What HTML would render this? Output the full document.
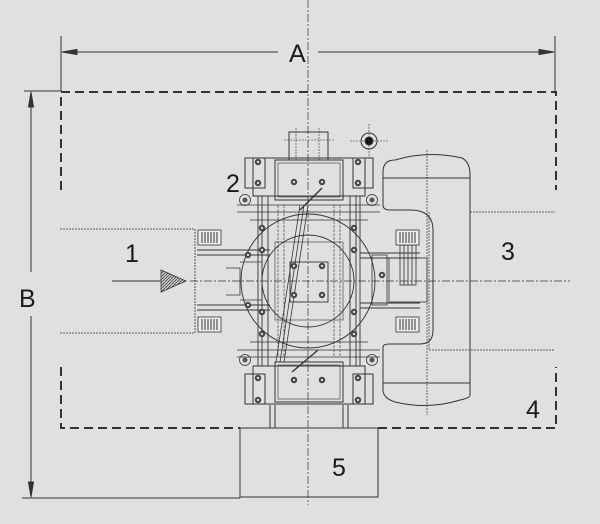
<!DOCTYPE html>
<html><head><meta charset="utf-8"><style>
html,body{margin:0;padding:0;background:#dfe0e2;}
svg{display:block}
text{font-family:"Liberation Sans",sans-serif;fill:#1a1a1a;}
</style></head><body>
<svg width="600" height="524" viewBox="0 0 600 524" xmlns="http://www.w3.org/2000/svg">
<rect width="600" height="524" fill="#dfe0e2"/>
<defs>
<pattern id="h" width="3" height="3" patternUnits="userSpaceOnUse"><rect width="3" height="3" fill="#ccc"/><path d="M0 3L3 0" stroke="#444" stroke-width="0.8"/></pattern>
<g id="wh"><rect x="0" y="0" width="23" height="15" fill="#eee" stroke="#333" stroke-width="0.8"/><path d="M4 2v11M7 2v11M10 2v11M13 2v11M16 2v11M19 2v11" stroke="#333" stroke-width="1"/></g>
<g id="bolt"><circle r="3.2" fill="#444"/><circle r="1.2" fill="#ddd"/></g>
<g id="roll"><circle r="5.5" fill="none" stroke="#333" stroke-width="0.8"/><circle r="2.5" fill="#555"/></g>
</defs>
<g stroke="#333" fill="none" stroke-width="1">
<line x1="61" y1="36" x2="61" y2="91"/>
<line x1="555" y1="36" x2="555" y2="91"/>
<line x1="62" y1="52" x2="278" y2="52"/>
<line x1="318" y1="52" x2="554" y2="52"/>
<path d="M62 52l15-2.5v5z M554 52l-15-2.5v5z" fill="#333"/>
<line x1="24" y1="91" x2="62" y2="91"/>
<line x1="22" y1="498" x2="240" y2="498"/>
<line x1="31" y1="92" x2="31" y2="272"/>
<line x1="31" y1="316" x2="31" y2="497"/>
<path d="M31 92l-2.5 15h5z M31 497l-2.5-15h5z" fill="#333"/>
<g stroke-width="2" stroke-dasharray="9,5">
<path d="M61 190V92H556V190"/>
<path d="M61 367V428H240M378 428H556V367"/>
</g>
<rect x="240" y="428" width="138" height="69"/>
<g stroke-dasharray="2,1" stroke-width="0.8"><path d="M60 229H195V333H60"/></g>
<line x1="112" y1="281" x2="162" y2="281"/>
<path d="M161 270L186 281L161 292Z" fill="url(#h)" stroke="#333" stroke-width="0.8"/>
<g stroke-width="0.7" stroke-dasharray="8,2,2,2">
<line x1="308" y1="0" x2="308" y2="505"/>
<line x1="190" y1="281" x2="570" y2="281"/>
</g>
<path d="M383 172Q383 160 395 160Q428 150 462 158Q470 162 470 175V395Q470 398 460 400Q428 410 395 402Q383 398 383 390V347Q383 344 390 344H420Q433 344 433 330V230Q433 210 410 210H390Q383 210 383 205Z" stroke-width="1"/>
<line x1="383" y1="178" x2="470" y2="178"/>
<line x1="383" y1="383" x2="470" y2="383"/>
<g stroke-width="0.7" stroke-dasharray="2,1">
<line x1="427" y1="150" x2="427" y2="415"/>
<line x1="429" y1="212" x2="429" y2="350"/>
<line x1="470" y1="212" x2="555" y2="212"/>
<line x1="429" y1="350" x2="555" y2="350"/>
</g>
<rect x="289" y="132" width="39" height="28"/>
<g stroke-width="0.6" stroke-dasharray="2,1"><line x1="284" y1="140" x2="334" y2="140"/><line x1="296" y1="128" x2="296" y2="160"/><line x1="319" y1="128" x2="319" y2="160"/></g>
<circle cx="369" cy="141" r="8"/>
<circle cx="369" cy="141" r="4" fill="#111"/>
<g stroke-width="0.6" stroke-dasharray="2,1"><line x1="350" y1="141" x2="388" y2="141"/><line x1="369" y1="124" x2="369" y2="158"/></g>
<rect x="253" y="158" width="112" height="38"/>
<rect x="275" y="160" width="68" height="40"/>
<rect x="278" y="163" width="62" height="34" stroke-width="0.6"/>
<rect x="253" y="366" width="112" height="38"/>
<rect x="275" y="362" width="68" height="40"/>
<rect x="278" y="365" width="62" height="34" stroke-width="0.6"/>
<rect x="245" y="158" width="20" height="30"/>
<rect x="353" y="158" width="20" height="30"/>
<rect x="245" y="374" width="20" height="30"/>
<rect x="353" y="374" width="20" height="30"/>
<path d="M237 205H380M237 212H380M237 350H380M237 357H380M250 220H368M250 342H368" stroke-width="0.8"/>
<path d="M258 196V366M262 196V366M268 196V366M350 196V366M356 196V366M360 196V366" stroke-width="0.9"/>
<path d="M278 205V357M340 205V357M284 205V357M334 205V357" stroke-width="0.6" stroke-dasharray="3,1"/>
<circle cx="308" cy="281" r="67" stroke-width="0.9"/>
<circle cx="308" cy="281" r="46" stroke-width="0.9"/>
<rect x="290" y="262" width="38" height="40" stroke-width="0.9"/>
<rect x="275" y="242" width="68" height="78" stroke-width="0.6"/>
<path d="M300 205L276 362M308 205L284 362M304 205L280 362" stroke-width="0.8"/>
<path d="M300 210L322 188M292 372L318 350" stroke-width="1.4"/>
<path d="M197 250H270M197 255H270M197 305H270M197 310H270" stroke-width="0.9"/>
<path d="M360 253H420M360 258H420M360 303H420M360 308H420" stroke-width="0.9"/>
<rect x="372" y="255" width="15" height="50" stroke-width="0.8"/>
<rect x="389" y="258" width="38" height="44" stroke-width="0.8"/>
<rect x="400" y="245" width="16" height="40" stroke-width="0.8"/>
<path d="M404 245V285M408 245V285M412 245V285" stroke-width="0.8"/>
<path d="M240 262H262V300H240M226 268H240V295H226" stroke-width="0.8"/>
<line x1="270" y1="405" x2="270" y2="428"/><line x1="275" y1="405" x2="275" y2="428"/>
<line x1="343" y1="405" x2="343" y2="428"/><line x1="348" y1="405" x2="348" y2="428"/>
</g>
<use href="#wh" x="198" y="230"/><use href="#wh" x="198" y="317"/>
<use href="#wh" x="396" y="230"/><use href="#wh" x="396" y="317"/>
<g>
<use href="#bolt" x="258" y="162"/><use href="#bolt" x="358" y="162"/><use href="#bolt" x="258" y="183"/><use href="#bolt" x="358" y="183"/>
<use href="#bolt" x="294" y="182"/><use href="#bolt" x="322" y="182"/>
<use href="#bolt" x="258" y="400"/><use href="#bolt" x="358" y="400"/><use href="#bolt" x="258" y="378"/><use href="#bolt" x="358" y="378"/>
<use href="#bolt" x="294" y="380"/><use href="#bolt" x="322" y="380"/>
<use href="#bolt" x="294" y="266"/><use href="#bolt" x="322" y="266"/><use href="#bolt" x="294" y="295"/><use href="#bolt" x="322" y="295"/>
<use href="#bolt" x="262" y="228"/><use href="#bolt" x="354" y="228"/><use href="#bolt" x="262" y="334"/><use href="#bolt" x="354" y="334"/>
<use href="#bolt" x="262" y="250"/><use href="#bolt" x="354" y="250"/><use href="#bolt" x="262" y="312"/><use href="#bolt" x="354" y="312"/>
<use href="#bolt" x="248" y="255"/><use href="#bolt" x="248" y="305"/><use href="#bolt" x="382" y="275"/>
<use href="#roll" x="245" y="200"/><use href="#roll" x="372" y="200"/><use href="#roll" x="245" y="360"/><use href="#roll" x="372" y="360"/>
</g>
<text x="289" y="62" font-size="25">A</text>
<text x="19" y="307" font-size="25">B</text>
<text x="125" y="262" font-size="25">1</text>
<text x="226" y="192" font-size="25">2</text>
<text x="501" y="260" font-size="25">3</text>
<text x="526" y="418" font-size="25">4</text>
<text x="332" y="476" font-size="25">5</text>
</svg>
</body></html>
